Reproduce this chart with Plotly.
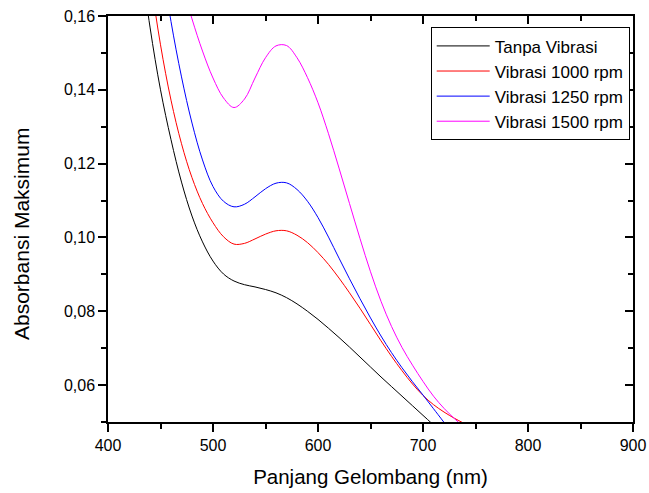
import plotly.graph_objects as go

# ---- data ----
wl_tanpa = [430, 440, 450, 460, 470, 480, 490, 500, 510, 520, 530, 540, 550, 560,
            570, 580, 590, 600, 610, 620, 630, 640, 650, 660, 670, 680, 690, 700, 710]
abs_tanpa = [0.1780, 0.1570, 0.1400, 0.1265, 0.1150, 0.1058, 0.0988, 0.0936, 0.0901,
             0.0882, 0.0872, 0.0866, 0.0859, 0.0850, 0.0837, 0.0820, 0.0800, 0.0778,
             0.0754, 0.0729, 0.0703, 0.0676, 0.0649, 0.0622, 0.0596, 0.0570, 0.0544,
             0.0518, 0.0492]

wl_1000 = [430, 440, 450, 460, 470, 480, 490, 500, 510, 520, 530, 540, 550, 560, 570, 580,
           590, 600, 610, 620, 630, 640, 650, 660, 670, 680, 690, 700, 710, 720, 730, 740]
abs_1000 = [0.1940, 0.1712, 0.1522, 0.1372, 0.1254, 0.1162, 0.1092, 0.1040, 0.1002, 0.0982,
            0.0984, 0.0996, 0.1009, 0.1018, 0.1018, 0.1006, 0.0986, 0.0959, 0.0927,
            0.0890, 0.0850, 0.0808, 0.0764, 0.0720, 0.0678, 0.0639, 0.0603, 0.0572,
            0.0547, 0.0527, 0.0510, 0.0495]

wl_1250 = [440, 450, 460, 470, 480, 490, 500, 510, 520, 530, 540, 550, 560, 570, 580, 590,
           600, 610, 620, 630, 640, 650, 660, 670, 680, 690, 700, 710, 720]
abs_1250 = [0.1975, 0.1765, 0.1585, 0.1435, 0.1310, 0.1210, 0.1138, 0.1098, 0.1083, 0.1090,
            0.1110, 0.1132, 0.1147, 0.1148, 0.1130, 0.1098, 0.1054, 0.1001, 0.0944,
            0.0888, 0.0834, 0.0782, 0.0733, 0.0688, 0.0647, 0.0609, 0.0573, 0.0536,
            0.0499]

wl_1500 = [460, 470, 480, 490, 500, 510, 520, 530, 540, 550, 560, 570, 580, 590, 600, 610,
           620, 630, 640, 650, 660, 670, 680, 690, 700, 710, 720, 730, 740]
abs_1500 = [0.1790, 0.1690, 0.1592, 0.1505, 0.1432, 0.1378, 0.1352, 0.1375, 0.1432, 0.1487,
            0.1519, 0.1520, 0.1487, 0.1433, 0.1365, 0.1281, 0.1188, 0.1092, 0.0997,
            0.0907, 0.0827, 0.0759, 0.0702, 0.0654, 0.0610, 0.0570, 0.0537, 0.0509,
            0.0484]

series_names = ["Tanpa Vibrasi", "Vibrasi 1000 rpm", "Vibrasi 1250 rpm", "Vibrasi 1500 rpm"]
series_colors = ["#000000", "#FF0000", "#0000FF", "#FF00FF"]

x_ticks = [400, 500, 600, 700, 800, 900]
x_tick_labels = ["400", "500", "600", "700", "800", "900"]
x_minor = [450, 550, 650, 750, 850]
y_ticks = [0.06, 0.08, 0.10, 0.12, 0.14, 0.16]
y_tick_labels = ["0,06", "0,08", "0,10", "0,12", "0,14", "0,16"]
y_minor = [0.05, 0.07, 0.09, 0.11, 0.13, 0.15]

FONT = "Liberation Sans, Arial, sans-serif"

fig = go.Figure()
for wl, ab, name, col in zip([wl_tanpa, wl_1000, wl_1250, wl_1500],
                             [abs_tanpa, abs_1000, abs_1250, abs_1500],
                             series_names, series_colors):
    fig.add_trace(go.Scatter(x=wl, y=ab, mode="lines", name=name,
                             line=dict(color=col, width=1, shape="spline", smoothing=1.0)))

# empty trace so that the mirrored top/right frame axes get drawn
fig.add_trace(go.Scatter(x=[], y=[], xaxis="x2", yaxis="y2", showlegend=False,
                         hoverinfo="skip"))

common = dict(showgrid=False, zeroline=False, showline=True, linecolor="black",
              linewidth=1.5, tickcolor="black", tickwidth=1.5, automargin=False)

fig.update_layout(
    width=649, height=493,
    margin=dict(l=108, r=16, t=16, b=71, pad=0),
    paper_bgcolor="white", plot_bgcolor="white",
    font=dict(family=FONT, color="black"),
    showlegend=True,
    legend=dict(x=0.6147, y=0.972, xanchor="left", yanchor="top",
                bgcolor="white", bordercolor="black", borderwidth=1,
                font=dict(size=17, family=FONT, color="black"),
                tracegroupgap=0, itemwidth=53),
    xaxis=dict(range=[400, 900], tickmode="array", tickvals=x_ticks, ticktext=x_tick_labels,
               ticks="outside", ticklen=8,
               minor=dict(tickmode="array", tickvals=x_minor, ticks="outside", ticklen=5,
                          tickwidth=1.5, tickcolor="black"),
               tickfont=dict(size=16, family=FONT, color="black"),
               title=dict(text="Panjang Gelombang (nm)", standoff=17,
                          font=dict(size=20.5, family=FONT, color="black")),
               **common),
    yaxis=dict(range=[0.05, 0.16], tickmode="array", tickvals=y_ticks, ticktext=y_tick_labels,
               ticks="outside", ticklen=8,
               minor=dict(tickmode="array", tickvals=y_minor, ticks="outside", ticklen=5,
                          tickwidth=1.5, tickcolor="black"),
               tickfont=dict(size=16, family=FONT, color="black"),
               **common),
    xaxis2=dict(overlaying="x", matches="x", side="top", anchor="y2", range=[400, 900],
                tickmode="array", tickvals=x_ticks, showticklabels=False,
                ticks="inside", ticklen=8,
                minor=dict(tickmode="array", tickvals=x_minor, ticks="inside", ticklen=5,
                           tickwidth=1.5, tickcolor="black"),
                **common),
    yaxis2=dict(overlaying="y", matches="y", side="right", anchor="x2", range=[0.05, 0.16],
                tickmode="array", tickvals=y_ticks, showticklabels=False,
                ticks="inside", ticklen=8,
                minor=dict(tickmode="array", tickvals=y_minor, ticks="inside", ticklen=5,
                           tickwidth=1.5, tickcolor="black"),
                **common),
    annotations=[dict(text="Absorbansi Maksimum", textangle=-90, xref="paper", yref="paper",
                      x=(21 - 108) / 525, y=(422 - 234) / 406, xanchor="center",
                      yanchor="middle", showarrow=False,
                      font=dict(size=21, family=FONT, color="black"))],
)

fig.write_html("out.html", config={"displayModeBar": False},
               post_script="document.body.style.margin='0px';")
